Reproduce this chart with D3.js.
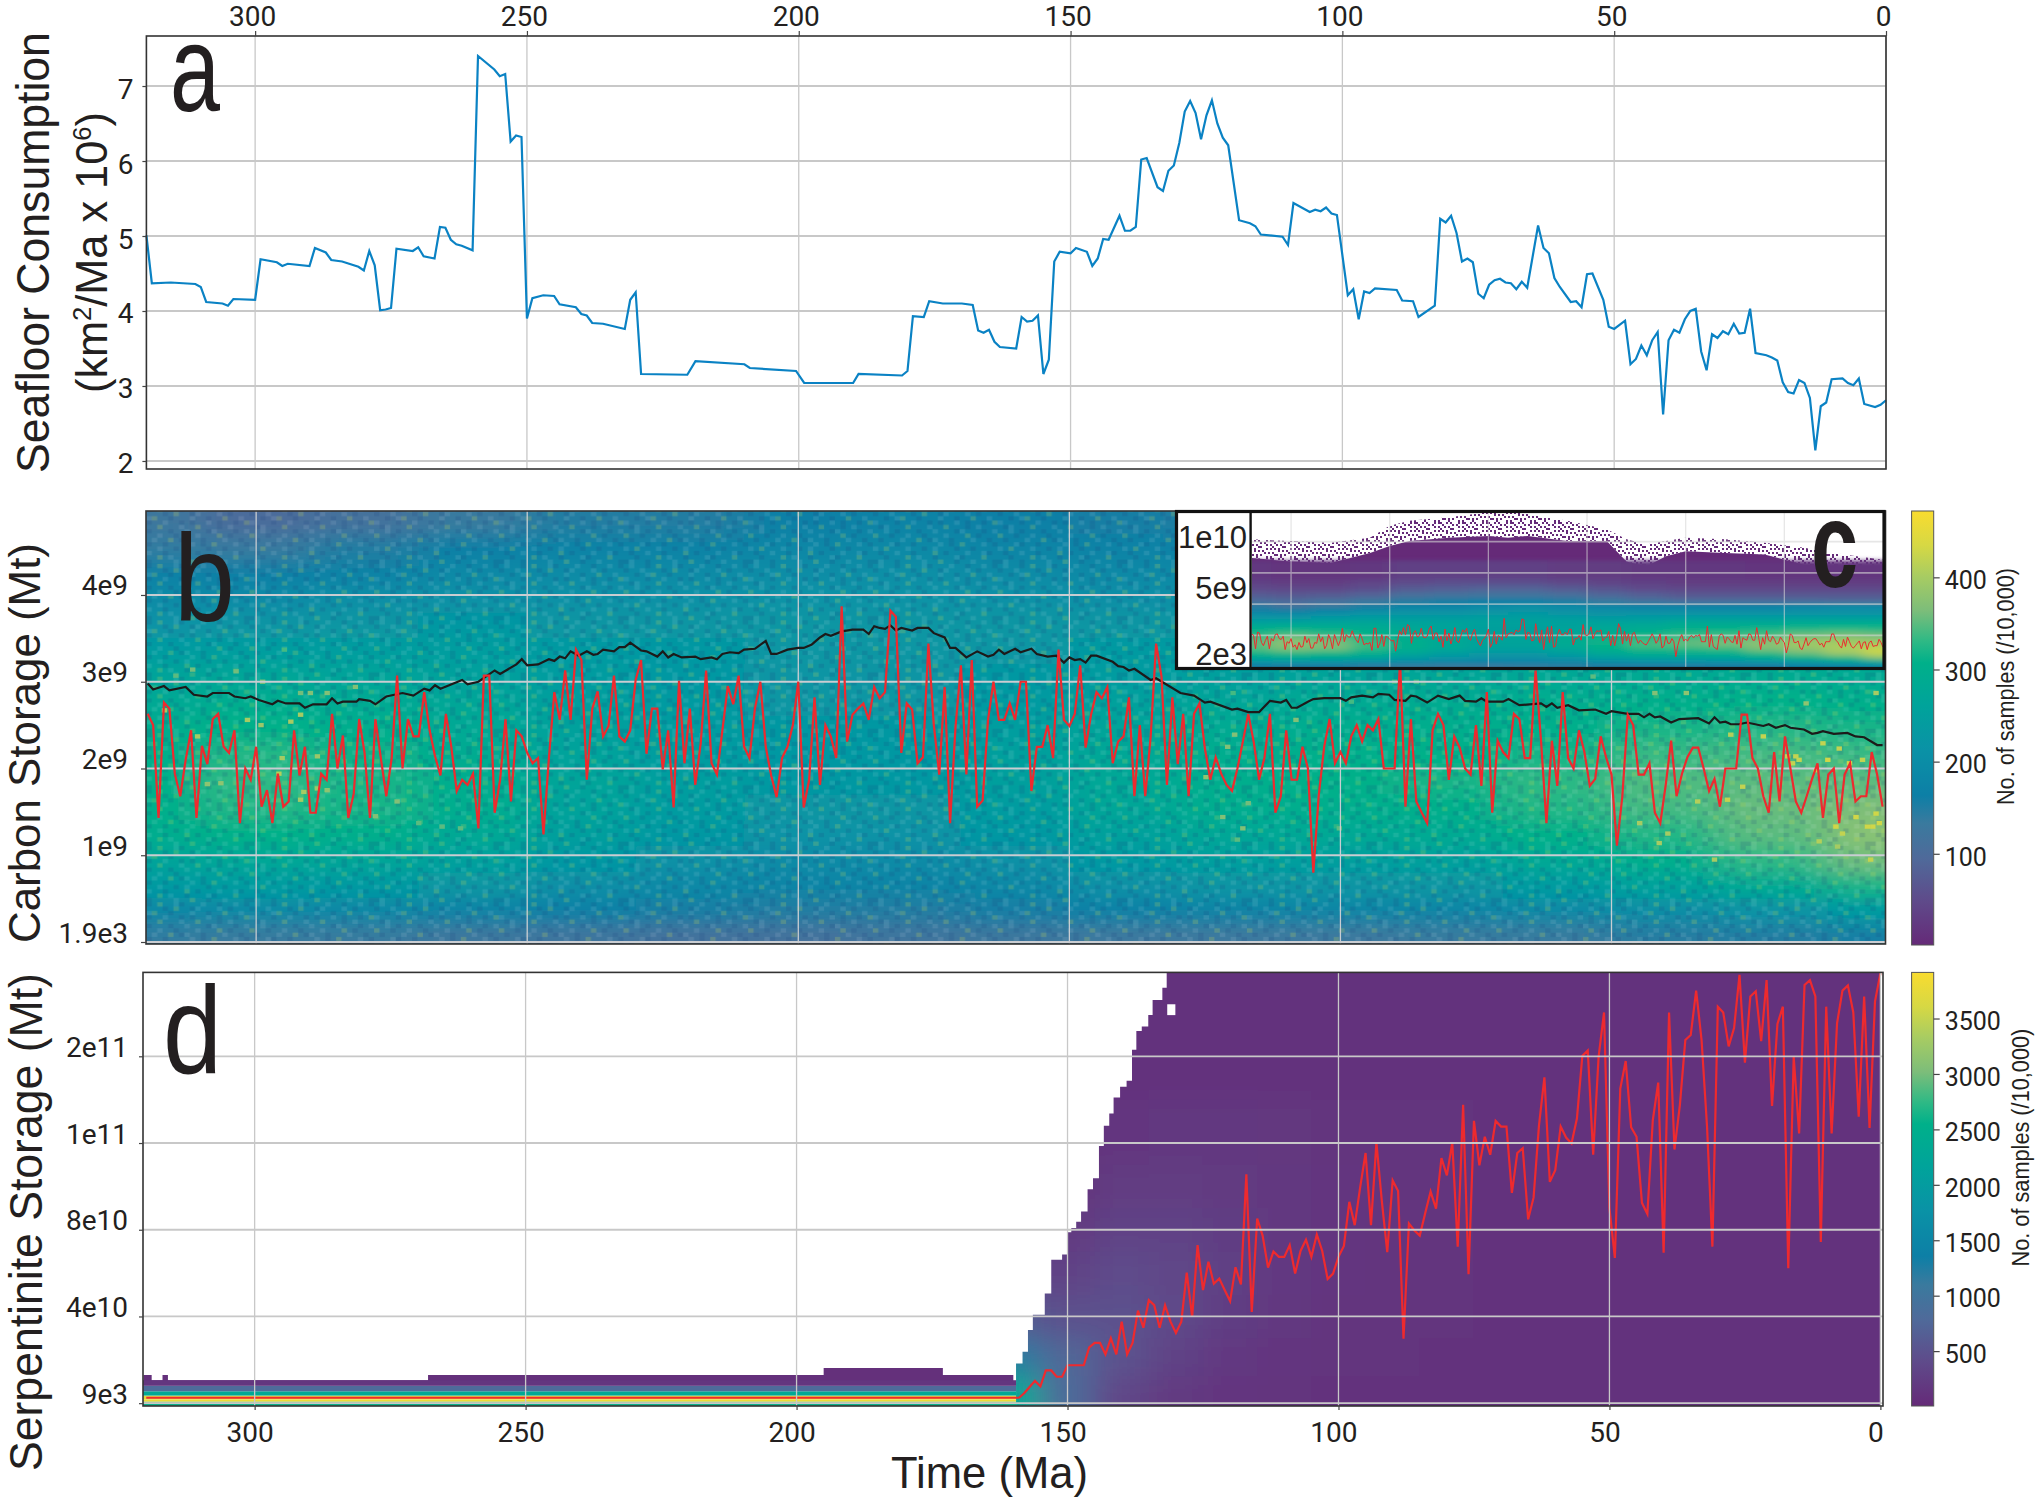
<!DOCTYPE html>
<html>
<head>
<meta charset="utf-8">
<script src="https://cdnjs.cloudflare.com/ajax/libs/d3/7.8.5/d3.min.js"></script>
<style>
  body { margin: 0; background: #fff; }
  text { font-family: "Liberation Sans", sans-serif; fill: #231f20; }
</style>
</head>
<body>
<svg id="chart" width="2035" height="1500"></svg>
<script>
// a: seafloor consumption (km2/Ma x 10^6)
const seafloorAges = [320,319,315.5,311,310,309,306,305,304,300,299,296,295,294,290,289,287,286,284,281,280,279,278,277,276,275,274,271,270,269,267,266,265,264,263,262,260,259,256,255,254,253,252,251,250,249,247,245,244,241,240,239,238,236,232,231,230,229,220.5,219,210,209,200.5,199,195,190,189,181,180,179,177,176,173.5,170,168,167,166,165,164,163,160,159,158,157,156,155,154,153,152,150,149,147,146,145,144,143,141,140,139,138,137,136,134,133,132,131,130,129,128,127,126,125,124,123,122,121,119,117,116,115,111,110,109,106,105,104,103,102,101,99,98,97,96,95,94,90,89,87,86,83,82,81,80,79,78,77,76,75,74,73,72,71,70,69,68,67,66,64,63,62,61,60,58,57,56,55,54,52,51,50,48,47,46,45,44,43,42,41,40,39,38,37,36,35,34,33,32,31,30,29,28,27,26,25,24,22,21,20,19,18,17,16,15,14,13,12,11,10,8,7,6,5,4,2,1,0];
const seafloorValues = [5.01,4.37,4.38,4.36,4.32,4.12,4.10,4.07,4.16,4.15,4.69,4.65,4.60,4.63,4.60,4.84,4.78,4.68,4.66,4.59,4.54,4.80,4.61,4.01,4.02,4.04,4.83,4.80,4.85,4.73,4.70,5.12,5.11,4.95,4.89,4.87,4.81,7.40,7.22,7.13,7.16,6.26,6.34,6.32,3.90,4.17,4.21,4.20,4.09,4.05,3.96,3.94,3.84,3.83,3.76,4.15,4.25,3.16,3.15,3.33,3.29,3.24,3.20,3.04,3.04,3.04,3.16,3.14,3.20,3.93,3.92,4.13,4.10,4.10,4.08,3.74,3.71,3.75,3.59,3.52,3.50,3.92,3.86,3.87,3.94,3.16,3.35,4.66,4.79,4.77,4.84,4.79,4.60,4.70,4.96,4.95,5.27,5.07,5.07,5.12,6.02,6.04,5.65,5.60,5.87,5.94,6.24,6.66,6.80,6.64,6.29,6.61,6.81,6.50,6.31,6.21,5.21,5.17,5.13,5.02,4.99,4.88,5.44,5.32,5.35,5.33,5.38,5.30,5.28,4.21,4.29,3.89,4.26,4.24,4.30,4.28,4.14,4.13,3.92,4.07,5.23,5.18,5.27,5.04,4.66,4.70,4.65,4.23,4.17,4.35,4.41,4.43,4.38,4.37,4.29,4.39,4.31,5.14,4.84,4.77,4.44,4.32,4.12,4.13,4.05,4.49,4.50,4.15,3.79,3.76,3.87,3.29,3.36,3.54,3.41,3.61,3.72,2.62,3.61,3.75,3.71,3.89,4.00,4.03,3.46,3.21,3.69,3.64,3.73,3.69,3.83,3.70,3.71,4.03,3.44,3.41,3.38,3.34,3.05,2.92,2.90,3.08,3.04,2.84,2.14,2.73,2.78,3.09,3.10,3.04,3.01,3.10,2.76,2.72,2.75,2.81];

// b, c: carbon storage, most frequent bin for each Ma from 320 down to 0 (1e9 Mt)
const carbonMode = [2.63,2.50,1.43,2.76,2.69,1.94,1.68,2.10,2.44,1.43,2.26,2.05,2.57,2.63,2.25,2.18,2.44,1.37,2.00,1.87,2.25,1.56,1.75,1.37,1.94,1.56,1.62,2.44,1.92,2.25,1.49,1.49,1.94,1.87,2.63,2.00,2.38,1.43,1.71,2.57,2.18,1.43,2.57,2.12,1.68,2.12,3.07,2.00,2.57,2.37,2.37,2.88,2.44,2.14,1.92,2.63,2.25,1.74,1.87,1.81,1.94,1.31,3.07,3.07,1.49,1.87,2.57,1.62,2.44,2.37,2.18,2.06,2.12,1.24,2.12,2.88,2.56,3.13,2.56,3.37,3.25,
1.87,2.69,2.89,2.37,2.49,3.07,2.37,2.31,2.44,3.02,3.25,2.17,2.69,2.69,1.99,2.44,1.55,3.01,2.06,2.69,1.81,2.29,3.13,2.06,1.93,2.44,2.95,2.74,3.07,2.25,2.12,2.69,3.00,2.25,1.92,1.67,2.12,2.25,2.50,3.00,1.55,1.87,2.82,1.81,2.50,2.37,2.12,3.87,2.31,2.62,2.69,2.75,2.56,2.94,2.81,2.88,3.82,3.75,2.18,2.75,2.68,2.06,2.13,3.44,2.50,1.93,2.94,1.37,2.48,3.19,1.93,3.25,1.56,1.63,2.56,3.00,2.56,2.56,2.75,2.56,
3.00,3.00,1.74,2.25,2.25,2.50,2.12,3.37,2.56,2.49,2.63,3.19,2.24,2.62,2.88,2.81,2.94,2.06,2.31,2.37,2.82,1.68,2.50,1.68,2.37,3.44,3.06,1.81,2.82,2.05,2.63,1.68,2.63,2.75,2.23,1.87,2.13,1.94,1.81,1.74,2.00,2.31,2.63,2.31,1.87,2.13,2.63,1.49,1.68,2.44,1.87,1.87,2.25,2.00,0.80,1.69,2.25,2.57,2.06,2.19,2.06,2.37,2.50,2.31,2.50,2.44,2.57,2.00,2.00,2.00,3.25,1.56,2.57,1.62,1.49,1.37,2.44,2.63,2.50,1.87,
2.37,2.24,2.00,1.93,2.50,1.80,2.88,1.49,2.32,2.19,2.12,2.63,2.57,2.12,2.12,3.13,2.32,1.37,2.32,1.80,2.88,2.12,2.00,2.44,2.19,1.80,1.88,2.37,2.13,1.93,1.11,1.68,2.62,2.50,1.93,1.93,2.06,1.49,1.37,1.81,2.32,1.68,1.94,2.13,2.24,2.24,2.00,1.74,1.88,1.56,2.00,2.00,2.00,2.62,2.62,2.12,2.00,1.68,1.49,2.19,1.62,2.37,2.00,1.62,1.49,1.68,1.88,2.06,1.43,1.93,2.00,1.37,1.93,2.06,1.62,1.68,1.68,2.19,1.93,1.56];

// b: carbon storage, black curve (1e9 Mt)
const carbonMeanAges = [320,319,317,316,313,311.5,309,308,305,304,302,301,299.5,297,296,294.5,292,291,289.5,287,286,285,284,281.5,281,279,278,276,273,271,269,268,267,266,262,261,259,256,255,252,251,250,248,246,245,244,243,242,240.5,239,237.8,237,236,234,233,232,231,229,228,226,225,224,223,221.5,219,218,216,215,214,212.6,211,210,208,206,205,204,202,200,199,197.5,196,195,194,192,190,188,187,186,185,184,183,182,181,179,178,176,175,173,172,171,169,167,165,164,163,162,160,159,157,156,154,152.4,151,150,149,148,147,146,145,142,141,140,139,138,135,134,129.5,127,125,124,120,119,117,115,113,111,110,109,108,106,105,103,100,99,98,96,94,93,91,90,88,87,86,84,82,80,78,77,75,74,73,70,69,67,63,62,61,60,58,56,53,51,50,47,45,44,43,42,41,39,37.5,34,32,31,30,29,28,26.5,25,22,21,19.7,18,17,14.5,13,12,11,9,6.5,5,3.4,1,0];
const carbonMeanValues = [2.98,2.91,2.95,2.90,2.94,2.85,2.83,2.87,2.87,2.83,2.81,2.83,2.79,2.74,2.78,2.75,2.75,2.70,2.74,2.74,2.81,2.75,2.77,2.77,2.80,2.78,2.74,2.83,2.87,2.84,2.92,2.90,2.96,2.92,3.02,2.97,3.00,3.13,3.09,3.20,3.26,3.19,3.20,3.26,3.24,3.29,3.27,3.35,3.30,3.35,3.31,3.32,3.37,3.35,3.40,3.40,3.45,3.36,3.35,3.29,3.35,3.28,3.32,3.28,3.29,3.26,3.28,3.26,3.32,3.34,3.33,3.37,3.38,3.47,3.32,3.32,3.37,3.39,3.39,3.43,3.51,3.55,3.53,3.58,3.60,3.60,3.55,3.64,3.62,3.61,3.65,3.59,3.62,3.59,3.62,3.62,3.56,3.51,3.39,3.39,3.28,3.35,3.29,3.31,3.37,3.32,3.38,3.34,3.38,3.32,3.29,3.30,3.22,3.28,3.25,3.26,3.22,3.30,3.30,3.23,3.18,3.17,3.13,3.15,3.02,3.04,2.87,2.84,2.76,2.77,2.68,2.69,2.65,2.65,2.78,2.76,2.79,2.70,2.70,2.77,2.80,2.81,2.81,2.78,2.82,2.84,2.82,2.86,2.85,2.79,2.78,2.84,2.83,2.76,2.84,2.80,2.84,2.78,2.77,2.81,2.77,2.77,2.80,2.73,2.75,2.71,2.75,2.70,2.73,2.67,2.68,2.63,2.66,2.63,2.63,2.59,2.63,2.59,2.60,2.53,2.57,2.58,2.52,2.59,2.53,2.54,2.51,2.51,2.53,2.49,2.51,2.47,2.50,2.47,2.45,2.40,2.41,2.43,2.40,2.41,2.37,2.36,2.27,2.27];

// b, c: estimated sample counts on a coarse grid
const heatAges = [320,300,280,260,240,220,200,180,160,140,120,100,80,60,40,20,0];
const heatLevels = [4.85,4.55,4.25,3.95,3.65,3.35,3.05,2.75,2.45,2.15,1.85,1.55,1.25,0.95,0.65,0.35,0.05];
const heatCounts = [
  [125,100,115,135,150,150,165,175,165,155,150,150,150,150,160,170,165],
  [140,135,150,165,175,175,185,190,180,175,170,170,170,170,175,180,180],
  [170,165,175,190,195,195,200,205,195,190,190,190,190,190,190,190,190],
  [195,195,205,210,210,210,215,215,210,205,210,215,215,215,215,215,215],
  [215,220,225,230,225,225,225,225,225,225,225,235,235,235,240,240,240],
  [240,245,245,245,235,230,225,225,225,235,245,255,255,255,260,265,265],
  [265,270,265,255,240,230,220,220,230,240,250,265,270,280,285,290,285],
  [280,295,285,270,250,235,225,225,235,255,270,285,290,295,305,310,305],
  [295,310,300,280,255,240,230,230,245,265,285,295,300,305,320,325,320],
  [305,325,315,290,260,240,230,230,250,275,295,305,310,320,335,340,335],
  [310,330,320,295,265,245,230,230,250,275,300,310,320,330,345,350,350],
  [305,325,320,295,260,240,225,225,240,270,295,300,305,325,340,355,365],
  [295,310,305,280,250,230,215,215,230,255,275,280,285,310,325,350,375],
  [265,275,270,255,230,210,195,195,210,235,250,250,255,280,305,330,360],
  [235,240,235,225,205,190,180,180,190,210,220,220,225,240,260,285,320],
  [185,190,185,175,165,155,150,150,160,170,175,180,180,190,200,215,235],
  [140,135,135,125,120,115,115,120,125,130,130,130,135,135,145,150,160]
];

// b: single bright cells that stand out from the grid
const brightAges = [298.8,286.9,291.8,290,281.7,311.7,303.7,294.8,314.8,301.6,299.1,293.6,291.8,306.5,309,310.8,286.9,288.7,291.2,291.8,265.7,262.3,274,278,270,295.2,295.8,316.9,288.7,
  16,16.6,15.4,11,10.1,8,3.7,2.8,1.2,1.8,0.6,8.6,7.4,11.7,8.3,31,22,25.8,28,28.6,34.1,39.6,41.2,44.8,4.9,12.3,6.1,17.5,14.1,1.2,2.2,36.2,42,53.4,
  108.2,119.5,120.8,117,118,119,121.7,124.8,90,86,100.2,98,119.8];
const brightLevels = [3.0,2.87,2.87,2.87,2.94,3.14,3.12,3.37,3.07,2.56,2.5,2.54,2.62,1.83,1.82,2.37,1.75,2.14,1.73,1.64,1.33,1.31,1.62,1.45,1.37,2.12,1.94,2.67,1.77,
  2.14,2.06,2.10,2.29,2.10,2.23,2.10,1.33,1.48,1.33,1.37,1.33,1.25,1.16,1.10,0.95,2.37,1.79,2.39,1.64,1.62,1.25,1.14,1.37,1.44,1.98,2.06,2.14,2.75,2.87,0.95,2.87,2.87,3.06,
  2.56,2.39,2.25,1.6,1.31,1.18,1.44,1.9,3.0,3.0,1.31,2.77,2.87];
const brightCounts = [370,370,360,370,370,360,360,340,350,400,390,400,400,380,380,400,380,390,400,400,350,350,370,370,350,400,410,400,390,
  420,420,420,420,430,420,420,430,430,430,430,430,420,410,400,400,420,420,410,420,410,400,400,400,430,420,430,420,380,400,420,380,370,350,
  370,370,370,360,370,350,370,380,340,340,350,340,340];

// c: rows above panel b's range, and the top of the filled region
const insetLevels = [7.25,6.75,6.25,5.75,5.25];
const insetCounts = [
  [20,15,15,20,30,30,30,30,25,25,20,20,20,15,15,15,15],
  [30,25,25,35,45,50,50,50,40,35,30,25,25,25,25,25,25],
  [45,40,40,50,65,70,75,75,65,55,45,40,40,40,40,40,40],
  [65,60,65,75,95,100,105,105,95,80,70,60,60,60,60,60,60],
  [90,85,95,110,125,135,140,140,130,115,100,90,90,90,90,85,85]
];
const envelopeAges = [320,300,280,260,250,240,220,200,190,180,160,140,130,120,110,100,80,60,40,20,0];
const envelopeSolid = [8.69,8.42,8.29,9.10,9.65,10.05,10.32,10.46,10.32,10.46,10.05,10.05,8.42,8.01,8.83,9.24,9.10,8.97,8.15,7.88,7.34];
const envelopeSparse = [10.19,10.05,9.92,10.32,11.28,11.68,11.95,12.36,12.5,12.23,11.68,11.0,10.19,9.78,10.05,10.32,10.19,9.92,9.51,8.97,8.56];

// d: serpentinite storage, most frequent bin for each Ma from 159 down to 0 (1e10 Mt)
const serpMode = [0.24,0.46,0.75,1.03,0.78,1.51,1.51,1.22,1.22,1.75,1.75,1.75,1.75,2.57,2.78,2.78,2.25,3.00,2.25,3.76,2.25,2.78,4.27,3.48,4.75,4.52,3.48,4.52,3.76,3.24,3.76,6.02,3.98,7.29,5.22,6.52,5.51,5.75,5.22,4.71,6.27,5.48,10.56,4.21,8.52,7.73,6.25,7.00,6.75,6.75,7.29,5.98,7.02,7.54,6.75,7.78,7.02,5.73,5.98,6.75,7.25,9.29,8.21,9.95,11.54,8.21,12.02,9.32,6.97,10.27,9.79,2.97,8.29,7.97,7.73,8.76,9.76,8.97,11.30,10.51,12.02,7.22,13.76,5.95,13.02,10.97,12.29,11.46,13.02,12.76,12.76,9.70,11.54,11.76,8.48,9.48,12.81,15.03,10.21,10.75,12.76,12.25,11.98,13.13,16.02,16.27,11.46,15.98,18.02,9.00,6.70,14.51,15.78,12.73,12.29,9.24,8.73,13.05,14.79,6.94,18.02,11.70,13.76,16.75,16.98,19.03,16.75,12.81,7.22,18.29,18.02,16.46,17.30,19.76,15.71,18.76,19.00,16.70,19.52,13.71,17.49,18.29,6.22,15.98,12.44,19.29,19.51,18.76,7.44,18.29,12.44,17.52,19.03,19.27,18.02,13.21,18.76,12.70,18.52,19.83];
const serpOldAges = [320,159];
const serpOldValues = [0.25,0.25];

// d: flat layered part, older than about 160 Ma
const bandEdges = [-0.15,0,0.08,0.17,0.35,0.55,0.8,1.06];
const bandCounts = [2600,3000,3800,3700,2300,800,150];
const bandTopAges = [320.5,319,317,316,268,195,173,160];
const bandTopValues = [1.30,1.06,1.30,1.06,1.30,1.62,1.30,1.30];

// d: younger part, estimated counts and the edge of the filled region
const serpHeatAges = [160,150,140,130,120,110,100,90,80,70,60,50,40,30,20,10,0];
const serpHeatLevels = [20,16,12,10,8,6,4,2,0.5];
const serpHeatCounts = [
  [110,110,110,110,110,110,110,110,110,110,110,110,110,110,110,110,110],
  [110,110,115,120,120,115,115,110,110,110,110,110,110,110,110,110,110],
  [110,110,150,170,170,160,140,130,130,120,120,120,110,110,110,110,110],
  [110,120,220,230,210,170,150,135,130,120,120,115,110,110,110,110,110],
  [150,200,300,300,240,180,150,135,130,120,120,115,110,110,110,110,110],
  [300,300,420,350,270,190,150,135,130,120,115,115,110,110,110,110,110],
  [600,480,480,380,250,170,140,130,125,120,115,110,110,110,110,110,110],
  [1200,750,500,300,190,150,130,125,120,115,110,110,110,110,110,110,110],
  [2300,800,350,200,150,130,120,115,110,110,110,110,110,110,110,110,110]
];
const serpEdgeAges = [159.5,158.3,157.3,156.4,155.2,154.2,153,152,151,150,149.3,148.4,147.5,146.3,145.3,144.2,143.3,142.3,141.5,140.3,139.1,138.1,137.3,136.3,135.1,134.3,132.5,131.7,0];
const serpEdgeValues = [1.83,2.37,3.37,4.08,4.08,5.06,6.62,6.62,6.86,7.89,8.08,8.37,8.84,9.87,10.38,11.86,12.8,13.36,14.1,14.6,14.87,16.3,17.17,17.37,17.9,18.6,19.16,20,20];
const serpHoleAges = [131.6,130.1];
const serpHoleValues = [17.9,18.4];

// axes
const timeTicks = [300,250,200,150,100,50,0];
const seafloorTicks = [2,3,4,5,6,7];
const carbonTicks = [1.9e-6,1,2,3,4];
const carbonTickLabels = ["1.9e3","1e9","2e9","3e9","4e9"];
const insetTicks = [0,2.5,5,7.5,10];
const insetLabelValues = [10,5,0];
const insetLabels = ["1e10","5e9","2e3"];
const serpTicks = [9e-7,4,8,12,16];
const serpTickLabels = ["9e3","4e10","8e10","1e11","2e11"];
const countTicksB = [100,200,300,400];
const countTicksD = [500,1000,1500,2000,2500,3000,3500];

// colour bar as printed in the figure
const barStops = ["#652a78","#5f4a8a","#4f6a9a","#3a7a9e","#0d7fa6","#0a92a6","#00a39b","#00b08a","#2eb985","#7cbd7a","#a8cc62","#d6d844","#f9dc2f"];
const barPositions = [0,0.1,0.2,0.28,0.345,0.45,0.55,0.65,0.7,0.77,0.85,0.92,1];
const ramp = d3.scaleLinear().domain(barPositions).range(barStops).clamp(true);
const colorB = d3.scaleLinear().domain([1,472]).range([0,1]);
const colorC = d3.scaleLinear().domain([1,415]).range([0,1]);
const colorD = d3.scaleLinear().domain([5,3916]).range([0,1]);

// surface textures: the fine grain of the bins in b, the scattered top of c
const grainRows = [
  ".+..-.#..+-...+..-..+.-",
  "-..+...-.#..-+...+.-...",
  "..-.+#..-...+..-..#..+.",
  "+...-..+..-.-..+.-..-.#",
  ".-+...#...+..#...-.+...",
  "..+.-...-..+...-+...-.+",
  "#..-..+..-...+...#.-...",
  ".-...+..#.-+..-...+..-.",
  "...+-..-....+.-.#...+.-",
  "+.#...+..-.+...-..-....",
  ".-..+..-...#.-...+..+-.",
  "..-...#.+..-...+-...#..",
  "-+..-....+..#..-..+...-"
];
const speckleRows = [
  "x..x.x...x.x",
  ".x....x.x...",
  "..x.x....x.x",
  "x....xx.....",
  ".x.x.....x.x",
  "...x.x.x....",
  "x.......x.x.",
  ".xx.x.x.....",
  "....x....x.x"
];

const svg = d3.select("#chart");
const defs = svg.append("defs");

function makeClip(id, x, y, w, h) {
  defs.append("clipPath").attr("id", id).append("rect")
    .attr("x", x).attr("y", y).attr("width", w).attr("height", h);
}

// blur softens the coarse grid cells
function makeBlur(id, sx, sy) {
  defs.append("filter").attr("id", id)
    .attr("filterUnits", "userSpaceOnUse").attr("x", -100).attr("y", 0).attr("width", 2300).attr("height", 1500)
    .append("feGaussianBlur").attr("stdDeviation", sx + " " + sy);
}
makeBlur("softB", 22, 9);
makeBlur("softC", 8, 2);
makeBlur("softD", 16, 14);

// stretched text, so that it takes the width it has in the figure
function fitText(sel, x, y, width, rotated) {
  const len = sel.node().getComputedTextLength();
  const sx = width / len;
  sel.attr("transform", `translate(${x},${y})` + (rotated ? " rotate(-90)" : "") + ` scale(${sx},1)`);
}

function bandEdgesOf(values, scale, over) {
  const px = values.map(scale);
  const edges = [px[0] - (px[1] - px[0]) / 2 - (px[1] - px[0]) * over];
  for (let i = 1; i < px.length; i++) edges.push((px[i - 1] + px[i]) / 2);
  const n = px.length - 1;
  edges.push(px[n] + (px[n] - px[n - 1]) / 2 + (px[n] - px[n - 1]) * over);
  return edges;
}

function drawGrid(g, ages, levels, counts, x, y, color) {
  const xe = bandEdgesOf(ages, x, 1);
  const ye = bandEdgesOf(levels, y, 2);
  counts.forEach((row, r) => {
    g.selectAll(null).data(row).enter().append("rect")
      .attr("x", (d, i) => xe[i])
      .attr("y", ye[r])
      .attr("width", (d, i) => xe[i + 1] - xe[i] + 1)
      .attr("height", ye[r + 1] - ye[r] + 1)
      .attr("fill", d => ramp(color(d)));
  });
}

function texture(id, rows, w, h, paint) {
  const p = defs.append("pattern").attr("id", id).attr("patternUnits", "userSpaceOnUse")
    .attr("width", rows[0].length * w).attr("height", rows.length * h);
  rows.forEach((row, r) => {
    row.split("").forEach((c, i) => {
      if (paint[c]) {
        p.append("rect").attr("x", i * w).attr("y", r * h).attr("width", w).attr("height", h)
          .attr("fill", paint[c][0]).attr("fill-opacity", paint[c][1]);
      }
    });
  });
}

function styleAxis(g, size, dx, dy) {
  g.select(".domain").remove();
  g.selectAll(".tick line").attr("stroke", "#444").attr("stroke-width", 1.2);
  g.selectAll(".tick text").attr("font-size", size).attr("dx", dx).attr("dy", dy)
    .style("font-family", "Roboto, sans-serif").style("fill", "#231f20");
}

function gridLines(g, xs, ys, x, y, x0, x1, y0, y1, color) {
  g.selectAll(null).data(xs).enter().append("line")
    .attr("x1", d => x(d)).attr("x2", d => x(d)).attr("y1", y0).attr("y2", y1)
    .attr("stroke", color).attr("stroke-width", 1.3);
  g.selectAll(null).data(ys).enter().append("line")
    .attr("x1", x0).attr("x2", x1).attr("y1", d => y(d)).attr("y2", d => y(d))
    .attr("stroke", color).attr("stroke-width", 1.8);
}

function frame(x0, y0, x1, y1, w) {
  svg.append("rect").attr("x", x0).attr("y", y0).attr("width", x1 - x0).attr("height", y1 - y0)
    .attr("fill", "none").attr("stroke", "#333").attr("stroke-width", w);
}

function colorBar(x0, x1, y0, y1, domain, ticks, id) {
  const grad = defs.append("linearGradient").attr("id", id).attr("x1", 0).attr("x2", 0).attr("y1", 1).attr("y2", 0);
  barPositions.forEach((p, i) => grad.append("stop").attr("offset", p).attr("stop-color", barStops[i]));
  svg.append("rect").attr("x", x0).attr("y", y0).attr("width", x1 - x0).attr("height", y1 - y0)
    .attr("fill", `url(#${id})`).attr("stroke", "#555").attr("stroke-width", 1);
  const s = d3.scaleLinear().domain(domain).range([y1, y0]);
  const g = svg.append("g").attr("transform", `translate(${x1},0)`)
    .call(d3.axisRight(s).tickValues(ticks).tickSize(6).tickPadding(5).tickFormat(d3.format("d")));
  styleAxis(g, 25, 0, "0.45em");
}

// ---------- panel a
const xA = d3.scaleLinear().domain([320, 0]).range([146.4, 1886]);
const yA = d3.scaleLinear().domain([1.893, 7.667]).range([469, 36]);
gridLines(svg.append("g"), timeTicks, seafloorTicks, xA, yA, 146.4, 1886, 36, 469, "#c8c8c8");
svg.append("path")
  .attr("d", d3.line().x((d, i) => xA(seafloorAges[i])).y(d => yA(d))(seafloorValues))
  .attr("fill", "none").attr("stroke", "#0a82c4").attr("stroke-width", 2.2);
frame(146.4, 36, 1886, 469, 1.6);
const axTop = svg.append("g").attr("transform", "translate(0,36)")
  .call(d3.axisTop(xA).tickValues(timeTicks).tickSize(5).tickPadding(5).tickFormat(d3.format("d")));
styleAxis(axTop, 28, -3, 0);
const axA = svg.append("g").attr("transform", "translate(146.4,0)")
  .call(d3.axisLeft(yA).tickValues(seafloorTicks).tickSize(4).tickPadding(9).tickFormat(d3.format("d")));
styleAxis(axA, 28, 0, 12);

// ---------- panel b
const xB = d3.scaleLinear().domain([320.5, -0.54]).range([145, 1885.5]);
const yB = d3.scaleLinear().domain([-0.023, 4.968]).range([944, 511]);
makeClip("clipB", 146, 511, 1739.5, 433);
const plotB = svg.append("g").attr("clip-path", "url(#clipB)");
const heatB = plotB.append("g").attr("filter", "url(#softB)");
drawGrid(heatB, heatAges, heatLevels, heatCounts, xB, yB, colorB);
texture("grain", grainRows, xB(0) - xB(1), yB(0) - yB(0.05), {
  "+": ["#ffffff", 0.09], "-": ["#17407f", 0.16], "#": ["#d8e050", 0.2]
});
plotB.append("rect").attr("x", 146).attr("y", 511).attr("width", 1739.5).attr("height", 433).attr("fill", "url(#grain)");
plotB.append("g").selectAll("rect").data(brightCounts).enter().append("rect")
  .attr("x", (d, i) => xB(brightAges[i] + 0.5))
  .attr("y", (d, i) => yB(brightLevels[i] + 0.025))
  .attr("width", xB(0) - xB(1))
  .attr("height", yB(0) - yB(0.05))
  .attr("fill", d => ramp(colorB(d)));
gridLines(svg.append("g"), timeTicks.slice(0, 6), [1.9e-6, 1, 2, 3, 4], xB, yB, 146, 1885.5, 511, 944, "#c9cdd2");
svg.append("path")
  .attr("d", d3.line().x((d, i) => xB(carbonMeanAges[i])).y(d => yB(d))(carbonMeanValues))
  .attr("fill", "none").attr("stroke", "#1c1a1a").attr("stroke-width", 2.2);
svg.append("path").attr("clip-path", "url(#clipB)")
  .attr("d", d3.line().x((d, i) => xB(320 - i)).y(d => yB(d))(carbonMode))
  .attr("fill", "none").attr("stroke", "#ee2a2e").attr("stroke-width", 2.2);
frame(146, 511, 1885.5, 944, 1.6);
const axB = svg.append("g").attr("transform", "translate(146,0)")
  .call(d3.axisLeft(yB).tickValues(carbonTicks).tickSize(5).tickPadding(13).tickFormat((d, i) => carbonTickLabels[i]));
styleAxis(axB, 28, 0, 0);

// ---------- panel c, inset over b
const xC = d3.scaleLinear().domain([320, 0]).range([1251.6, 1883]);
const yC = d3.scaleLinear().domain([0, 12.6]).range([666.7, 509.2]);
svg.append("rect").attr("x", 1176.5).attr("y", 511).attr("width", 707.5).attr("height", 158).attr("fill", "#fff");
makeClip("clipC", 1252, 513, 631, 155);
const plotC = svg.append("g").attr("clip-path", "url(#clipC)");
texture("speckle", speckleRows, 2, 2, { x: ["#652a78", 1] });
plotC.append("path")
  .attr("d", d3.area().x((d, i) => xC(envelopeAges[i])).y0(d => yC(d)).y1((d, i) => yC(envelopeSparse[i]))(envelopeSolid))
  .attr("fill", "url(#speckle)");
plotC.append("path")
  .attr("d", d3.area().x((d, i) => xC(envelopeAges[i])).y0(yC(0)).y1(d => yC(d))(envelopeSolid))
  .attr("fill", ramp(0));
const heatC = plotC.append("g").attr("filter", "url(#softC)");
const yCrows = insetLevels.concat(heatLevels);
drawGrid(heatC, heatAges, yCrows, insetCounts.concat(heatCounts), xC, yC, colorC);
const gridC = plotC.append("g").attr("opacity", 0.6);
gridLines(gridC, timeTicks.slice(0, 6), insetTicks.slice(1), xC, yC, 1252, 1883, 513, 667, "#d6d6d6");
plotC.append("path")
  .attr("d", d3.line().x((d, i) => xC(320 - i)).y(d => yC(d))(carbonMode))
  .attr("fill", "none").attr("stroke", "#ee2a2e").attr("stroke-width", 1);
svg.append("rect").attr("x", 1176.5).attr("y", 511.5).attr("width", 707.5).attr("height", 157)
  .attr("fill", "none").attr("stroke", "#111").attr("stroke-width", 3.2);
svg.append("line").attr("x1", 1250.6).attr("x2", 1250.6).attr("y1", 511).attr("y2", 669)
  .attr("stroke", "#111").attr("stroke-width", 2.4);
const insetDy = [6.6, -5, -2];
svg.selectAll(null).data(insetLabels).enter().append("text")
  .attr("x", 1247).attr("y", (d, i) => yC(insetLabelValues[i]) + insetDy[i])
  .attr("text-anchor", "end").attr("font-size", 31).text(d => d);

// ---------- panel d
const xD = d3.scaleLinear().domain([320.6, -0.48]).range([143, 1883]);
const yD = d3.scaleLinear().domain([-0.13, 19.87]).range([1406, 972.4]);
makeClip("clipD", 143, 972.4, 1740, 433.6);
const plotD = svg.append("g").attr("clip-path", "url(#clipD)");
defs.append("clipPath").attr("id", "edgeD").append("path")
  .attr("d", d3.area().curve(d3.curveStepAfter).x((d, i) => xD(serpEdgeAges[i])).y0(yD(-0.2)).y1(d => yD(d))(serpEdgeValues));
const heatD = plotD.append("g").attr("clip-path", "url(#edgeD)").append("g").attr("filter", "url(#softD)");
drawGrid(heatD, serpHeatAges, serpHeatLevels, serpHeatCounts, xD, yD, colorD);
plotD.append("rect")
  .attr("x", xD(serpHoleAges[0])).attr("width", xD(serpHoleAges[1]) - xD(serpHoleAges[0]))
  .attr("y", yD(serpHoleValues[1])).attr("height", yD(serpHoleValues[0]) - yD(serpHoleValues[1]))
  .attr("fill", "#fff");
// flat bands
plotD.append("path")
  .attr("d", d3.area().curve(d3.curveStepAfter).x((d, i) => xD(bandTopAges[i])).y0(yD(1.0)).y1(d => yD(d))(bandTopValues))
  .attr("fill", ramp(colorD(80)));
const bands = plotD.append("g");
bandCounts.forEach((c, i) => {
  bands.append("rect")
    .attr("x", xD(320.6)).attr("width", xD(159.5) - xD(320.6))
    .attr("y", yD(bandEdges[i + 1])).attr("height", yD(bandEdges[i]) - yD(bandEdges[i + 1]))
    .attr("fill", ramp(colorD(c)));
});
gridLines(svg.append("g"), timeTicks, [9e-7, 4, 8, 12, 16], xD, yD, 143, 1883, 972.4, 1406, "#c8c8c8");
plotD.append("path")
  .attr("d", d3.line().x((d, i) => xD(serpOldAges[i])).y(d => yD(d))(serpOldValues))
  .attr("fill", "none").attr("stroke", "#ee2a2e").attr("stroke-width", 2.2);
plotD.append("path")
  .attr("d", d3.line().x((d, i) => xD(159 - i)).y(d => yD(d))(serpMode))
  .attr("fill", "none").attr("stroke", "#ee2a2e").attr("stroke-width", 2.2);
frame(143, 972.4, 1883, 1406, 1.6);
const axDx = svg.append("g").attr("transform", "translate(0,1406)")
  .call(d3.axisBottom(xD).tickValues(timeTicks).tickSize(4).tickPadding(12).tickFormat(d3.format("d")));
styleAxis(axDx, 28, -5, "0.71em");
const axD = svg.append("g").attr("transform", "translate(143,0)")
  .call(d3.axisLeft(yD).tickValues(serpTicks).tickSize(4).tickPadding(11).tickFormat((d, i) => serpTickLabels[i]));
styleAxis(axD, 28, 0, 0);

// ---------- colour bars
colorBar(1911.6, 1933.7, 511, 945, [1, 472], countTicksB, "barB");
colorBar(1911.6, 1933.7, 972.4, 1406, [5, 3916], countTicksD, "barD");

// ---------- titles
fitText(svg.append("text").attr("font-size", 46).text("Seafloor Consumption"), 49, 473, 441, true);
const sub = svg.append("text").attr("font-size", 44);
sub.append("tspan").text("(km");
sub.append("tspan").attr("font-size", 26).attr("dy", -16).text("2");
sub.append("tspan").attr("dy", 16).text("/Ma x 10");
sub.append("tspan").attr("font-size", 26).attr("dy", -16).text("6");
sub.append("tspan").attr("dy", 16).text(")");
fitText(sub, 107, 393, 281, true);
fitText(svg.append("text").attr("font-size", 44).text("Carbon Storage (Mt)"), 40, 943, 400, true);
fitText(svg.append("text").attr("font-size", 46).text("Serpentinite Storage (Mt)"), 42, 1471, 498, true);
fitText(svg.append("text").attr("font-size", 24).text("No. of samples (/10,000)"), 2014, 805, 237, true);
fitText(svg.append("text").attr("font-size", 24).text("No. of samples (/10,000)"), 2029, 1266.5, 238, true);
fitText(svg.append("text").attr("font-size", 44).text("Time (Ma)"), 891, 1488, 197, false);

// panel letters
const letters = [["a", 170, 111, 50, 400, 122], ["b", 174, 621, 61, 400, 125], ["c", 1811, 587, 47, 700, 122], ["d", 163, 1073, 59, 400, 125]];
letters.forEach(l => {
  const t = svg.append("text").attr("font-size", l[5]).attr("font-weight", l[4]).text(l[0]);
  fitText(t, l[1], l[2], l[3], false);
});
</script>
</body>
</html>
